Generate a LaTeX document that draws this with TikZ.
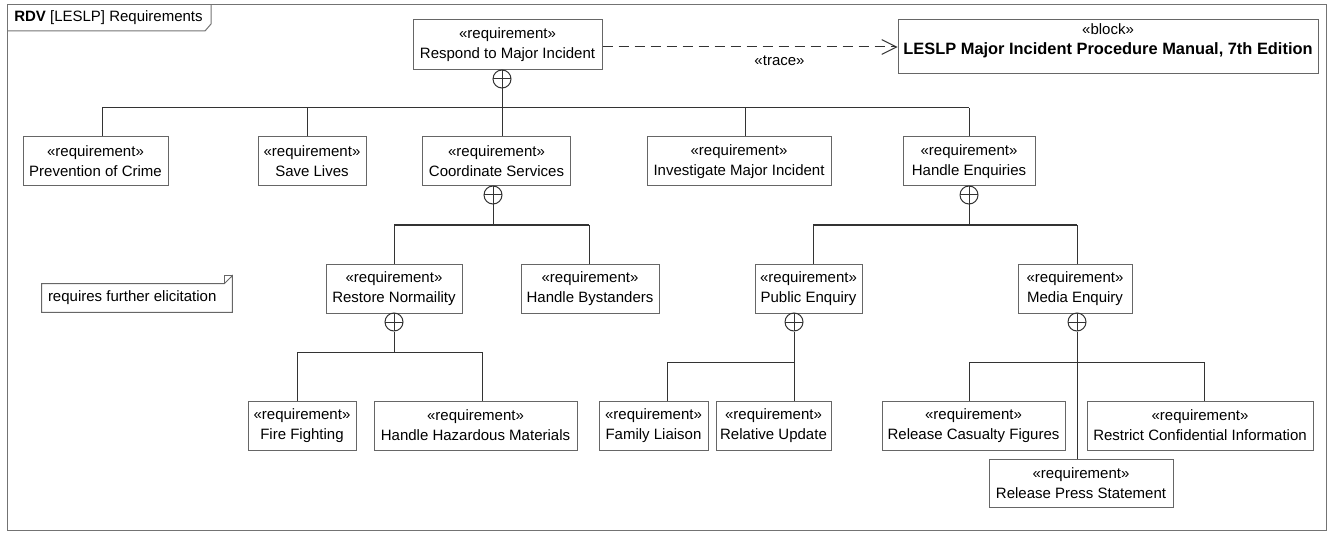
\documentclass[tikz,border=0pt]{standalone}
\usepackage{fontspec}
\setmainfont{Liberation Sans}
\usetikzlibrary{arrows.meta}
\begin{document}
\begin{tikzpicture}[x=0.75pt,y=-0.75pt,
  font=\fontsize{11.25}{15}\selectfont,
  frameline/.style={draw=black!55, line width=0.75pt},
  req/.style 2 args={draw=black!60, line width=0.75pt, fill=white, align=center,
    inner sep=0pt, minimum width=#1*0.75pt, minimum height=#2*0.75pt},
  wire/.style={draw=black!80, line width=0.75pt},
  cplus/.style={circle, draw=black!80, line width=0.75pt, minimum size=18*0.75pt,
    inner sep=0pt, path picture={\draw[black!80, line width=0.75pt]
      (path picture bounding box.north) -- (path picture bounding box.south)
      (path picture bounding box.west) -- (path picture bounding box.east);}},
  trace/.style={wire, dash pattern=on 7.5pt off 4.5pt,
    -{Straight Barb[length=11pt, width=11pt, line width=0.75pt]}},
  notebox/.style={inner sep=0pt, minimum width=190*0.75pt, minimum height=28*0.75pt}
]
\useasboundingbox (0,0) rectangle (1333,538);

% diagram frame and its name tab
\draw[frameline] (7,5) rectangle (1326,530);
\draw[frameline] (7,31) -- (205,31) -- (211,24) -- (211,5);
\node[anchor=west, inner sep=0pt] (title) at (14,18) {\textbf{RDV} [LESLP] Requirements};

% top requirement and the traced block
\node[req={189}{50}] (respond) at (507.5,45) {«requirement»\\Respond to Major Incident};
\node[req={420}{54}] (manual) at (1108,47) {};
\node[anchor=north, align=center, inner sep=0pt] (manualtext) at ([yshift=-3pt]manual.north)
  {«block»\\\fontsize{12.3}{15}\selectfont\textbf{LESLP Major Incident Procedure Manual, 7th Edition}};
\draw[trace] (respond.east |- manual.west) -- node[pos=0.6, below=3pt] (tracelbl) {«trace»} (manual.west);

% second level
\node[req={145}{49}] (prevention) at (95.5,161.5) {«requirement»\\Prevention of Crime};
\node[req={108}{49}] (save) at (312,161.5) {«requirement»\\Save Lives};
\node[req={148}{49}] (coord) at (496.5,161.5) {«requirement»\\Coordinate Services};
\node[req={184}{49}] (investigate) at (739,161.5) {«requirement»\\Investigate Major Incident};
\node[req={132}{49}] (enquiries) at (969,161.5) {«requirement»\\Handle Enquiries};

% third level
\node[req={136}{49}] (restore) at (394,288.5) {«requirement»\\Restore Normaility};
\node[req={138}{49}] (bystanders) at (590,288.5) {«requirement»\\Handle Bystanders};
\node[req={107}{49}] (public) at (808.5,288.5) {«requirement»\\Public Enquiry};
\node[req={114}{49}] (media) at (1075,288.5) {«requirement»\\Media Enquiry};

% fourth level
\node[req={108}{49}] (fire) at (302,425.5) {«requirement»\\Fire Fighting};
\node[req={203}{49}] (hazard) at (475.5,425.5) {«requirement»\\Handle Hazardous Materials};
\node[req={109}{49}] (family) at (653.5,425.5) {«requirement»\\Family Liaison};
\node[req={115}{49}] (relative) at (773.5,425.5) {«requirement»\\Relative Update};
\node[req={183}{49}] (casualty) at (973.5,425.5) {«requirement»\\Release Casualty Figures};
\node[req={226}{49}] (restrict) at (1200,425.5) {«requirement»\\Restrict Confidential Information};
\node[req={184}{48}] (press) at (1081,483) {«requirement»\\Release Press Statement};

% containment markers
\node[cplus] (oR) at (502,79) {};
\node[cplus] (oC) at (493,195) {};
\node[cplus] (oH) at (969,195) {};
\node[cplus] (oN) at (394,322) {};
\node[cplus] (oP) at (794,322) {};
\node[cplus] (oM) at (1077,322) {};

% containment from Respond to Major Incident
\coordinate (b1L) at (102,108);
\coordinate (b1R) at (969,108);
\coordinate (d1s) at (307,108);
\coordinate (d1i) at (745,108);
\draw[wire] (oR.south) -- (oR.south |- coord.north);
\draw[wire] (b1L) -- (b1R);
\draw[wire] (b1L) -- (b1L |- prevention.north);
\draw[wire] (d1s) -- (d1s |- save.north);
\draw[wire] (d1i) -- (d1i |- investigate.north);
\draw[wire] (b1R) -- (b1R |- enquiries.north);

% containment from Coordinate Services
\coordinate (b2L) at (394,225);
\coordinate (b2R) at (589,225);
\draw[wire] (oC.south) -- (oC.south |- b2L);
\draw[wire] (b2L) -- (b2R);
\draw[wire] (b2L) -- (b2L |- restore.north);
\draw[wire] (b2R) -- (b2R |- bystanders.north);

% containment from Handle Enquiries
\coordinate (b3L) at (813,225);
\coordinate (b3R) at (1077,225);
\draw[wire] (oH.south) -- (oH.south |- b3L);
\draw[wire] (b3L) -- (b3R);
\draw[wire] (b3L) -- (b3L |- public.north);
\draw[wire] (b3R) -- (b3R |- media.north);

% containment from Restore Normaility
\coordinate (b4L) at (297,352);
\coordinate (b4R) at (482,352);
\draw[wire] (oN.south) -- (oN.south |- b4L);
\draw[wire] (b4L) -- (b4R);
\draw[wire] (b4L) -- (b4L |- fire.north);
\draw[wire] (b4R) -- (b4R |- hazard.north);

% containment from Public Enquiry
\coordinate (b5L) at (667,362);
\draw[wire] (oP.south) -- (oP.south |- relative.north);
\draw[wire] (b5L) -- (oP.south |- b5L);
\draw[wire] (b5L) -- (b5L |- family.north);

% containment from Media Enquiry
\coordinate (b6L) at (969,362);
\coordinate (b6R) at (1204,362);
\draw[wire] (oM.south) -- (oM.south |- press.north);
\draw[wire] (b6L) -- (b6R);
\draw[wire] (b6L) -- (b6L |- casualty.north);
\draw[wire] (b6R) -- (b6R |- restrict.north);

% note
\node[notebox] (note) at (137,298) {};
\node[anchor=west, inner sep=0pt] (notetext) at ([xshift=6*0.75pt]note.west) {requires further elicitation};
\draw[frameline, draw=black!60] (note.south west) -- (note.north west)
  -- ([xshift=-8*0.75pt]note.north east) -- ([yshift=8*0.75pt]note.north east)
  -- (note.south east) -- cycle;
\draw[frameline, draw=black!60] ([xshift=-8*0.75pt]note.north east)
  |- ([yshift=8*0.75pt]note.north east);
\end{tikzpicture}
\end{document}
